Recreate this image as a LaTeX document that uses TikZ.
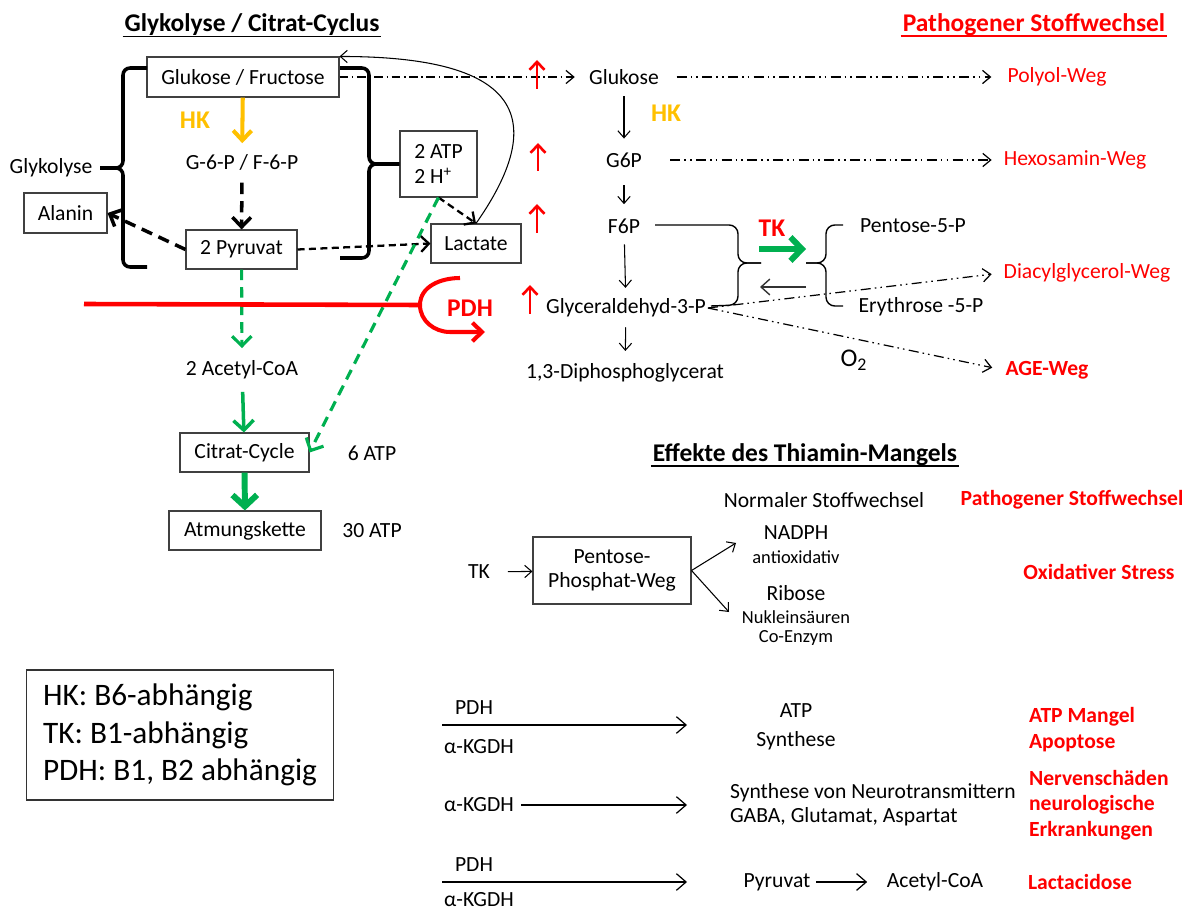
\documentclass[tikz,border=0pt]{standalone}
\usepackage{fontspec}
\setmainfont{Carlito}
\usepackage{tikz}
\usetikzlibrary{arrows.meta,calc}
\definecolor{hkorange}{HTML}{FFC000}
\definecolor{okgreen}{HTML}{00B050}
\definecolor{badred}{HTML}{FF0000}
\newcommand{\fmain}{\fontsize{12.3}{14.5}\selectfont}
\newcommand{\fsmall}{\fontsize{10.5}{12}\selectfont}
\newcommand{\ftitle}{\fontsize{14.5}{17}\selectfont}
\newcommand{\flegend}{\fontsize{17.8}{21.3}\selectfont}

\begin{document}
\begin{tikzpicture}[x=0.02cm,y=-0.02cm,font=\fmain,
  >={Straight Barb[length=4pt,width=7pt]},
  box/.style={draw=black!75,line width=0.6pt,inner sep=1pt},
  mol/.style={inner sep=1pt},
  sml/.style={inner sep=1pt,font=\fsmall},
  ttl/.style={inner sep=1pt,font=\ftitle\bfseries},
  enz/.style={inner sep=1pt,font=\ftitle\bfseries},
  bad/.style={inner sep=1pt,text=badred},
  badb/.style={inner sep=1pt,text=badred,font=\fmain\bfseries},
  flow/.style={->,line width=0.6pt},
  lflow/.style={-{Straight Barb[length=5.5pt,width=9.5pt]},line width=0.7pt},
  rise/.style={-{Straight Barb[length=4.5pt,width=8.5pt]},badred,line width=1.5pt},
  brk/.style={line width=2pt,rounded corners=4pt},
  brc/.style={line width=0.8pt,rounded corners=5pt},
  dd/.style={-{Straight Barb[length=4.5pt,width=7.5pt]},line width=0.7pt,dash pattern=on 5.7pt off 2.3pt on 0.9pt off 2.3pt on 0.9pt off 2.5pt},
  dsh/.style={-{Straight Barb[length=4.5pt,width=7.5pt]},line width=0.7pt,dash pattern=on 5pt off 2pt on 0.9pt off 2pt},
  bdash/.style={-{Straight Barb[length=5.5pt,width=10.5pt]},line width=2pt,dash pattern=on 6.5pt off 4pt},
  mdash/.style={-{Straight Barb[length=4.5pt,width=9pt]},line width=1.3pt,dash pattern=on 4pt off 2.5pt},
  gdash/.style={-{Straight Barb[length=5.5pt,width=11pt]},okgreen,line width=1.8pt,dash pattern=on 6pt off 4pt},
  uline/.style={line width=1.1pt}]
  \useasboundingbox (0,0) rectangle (1191,912);
  % glycolysis / citrate cycle
  \node[ttl] (tgly) at (252,25) {Glykolyse / Citrat-Cyclus};
  \draw[uline] ([yshift=-2.6pt]tgly.base west) -- ([yshift=-2.6pt]tgly.base east);
  \node[box,minimum width=3.84cm,minimum height=0.8cm] (glu) at (243,77) {Glukose / Fructose};
  \node[enz,text=hkorange] (hk1) at (195,120) {HK};
  \node[mol] (g6p1) at (242,162) {G-6-P / F-6-P};
  \node[box,minimum width=2.22cm,minimum height=0.78cm] (pyr) at (241.5,249.5) {2 Pyruvat};
  \node[box,minimum width=1.66cm,minimum height=0.8cm] (ala) at (65.5,213) {Alanin};
  \node[mol] (glyk) at (51,168) {Glykolyse};
  \node[box,minimum width=1.54cm,minimum height=1.32cm,align=left] (atp) at (438.5,164) {2 ATP\\2 H\textsuperscript{+}};
  \node[box,minimum width=1.8cm,minimum height=0.78cm] (lac) at (476,243.5) {Lactate};
  \node[mol] (acoa1) at (242,370) {2 Acetyl-CoA};
  \node[box,minimum width=2.58cm,minimum height=0.78cm] (cit) at (244.5,452.5) {Citrat-Cycle};
  \node[box,minimum width=3.04cm,minimum height=0.78cm] (atm) at (245,530.5) {Atmungskette};
  \node[mol] (atp6) at (372,453) {6 ATP};
  \node[mol] (atp30) at (372,531) {30 ATP};
  \node[enz,text=badred] (pdh1) at (470,308) {PDH};
  % brackets
  \draw[brk] (147,68) -- (123,68) -- (123,168) -- (100,168);
  \draw[brk] (100,168) -- (123,168) -- (123,267) -- (147,267);
  \draw[brk] (340,68) -- (369,68) -- (369,164) -- (atp.west);
  \draw[brk] (atp.west) -- (369,164) -- (369,258) -- (340,258);
  % arrows
  \draw[-{Straight Barb[length=5.5pt,width=10.5pt]},hkorange,line width=2.3pt,shorten >=5pt] (glu) -- (g6p1);
  \draw[bdash,shorten <=6pt] (g6p1) -- (pyr);
  \draw[bdash] (pyr.west) -- (ala.east);
  \draw[mdash] (pyr.east) -- (lac.west);
  \draw[mdash] (atp.south) -- (lac.north);
  \draw[flow] (lac.north) to[out=55,in=0,looseness=1.8] (glu.north east);
  \draw[gdash,shorten >=6pt] (pyr) -- (acoa1);
  \draw[-{Straight Barb[length=5.5pt,width=11.5pt]},okgreen,line width=2pt,shorten <=6pt] (acoa1) -- (cit);
  \draw[-{Straight Barb[length=6.5pt,width=14pt]},okgreen,line width=3.4pt] (cit) -- (atm);
  \draw[gdash] (atp.south) -- (cit.east);
  % PDH block
  \coordinate (rl) at (84,304);
  \coordinate (ra) at (420,305);
  \draw[badred,line width=2.6pt] (rl) -- (ra);
  \draw[-{Straight Barb[length=5.5pt,width=10.5pt]},badred,line width=2.3pt] (460,278) to[out=180,in=90] (ra) to[out=-90,in=180] (450,332) -- (485,332);
  % pathogenic metabolism
  \node[ttl,text=badred] (tpat) at (1034,25) {Pathogener Stoffwechsel};
  \draw[uline,badred] ([yshift=-2.6pt]tpat.base west) -- ([yshift=-2.6pt]tpat.base east);
  \node[mol] (gk) at (624,77) {Glukose};
  \node[mol] (g6p) at (624,160) {G6P};
  \node[mol] (f6p) at (624,226) {F6P};
  \node[mol] (gap) at (626,308) {Glyceraldehyd-3-P};
  \node[mol] (dpg) at (625,373) {1,3-Diphosphoglycerat};
  \node[enz,text=hkorange] (hk2) at (666,113) {HK};
  \node[bad] (poly) at (1057,77) {Polyol-Weg};
  \node[bad] (hexo) at (1075,160) {Hexosamin-Weg};
  \node[bad] (dag) at (1087,273) {Diacylglycerol-Weg};
  \node[badb] (age) at (1047,370) {AGE-Weg};
  \node[mol] (pen) at (913,226) {Pentose-5-P};
  \node[mol] (ery) at (921,307) {Erythrose -5-P};
  \node[enz,text=badred] (tk1) at (772,228) {TK};
  \node[mol,font=\ftitle] (o2) at (854,360) {O\textsubscript{2}};
  \draw[dsh,shorten >=7pt] (glu.east) -- (gk.west);
  \draw[flow,shorten <=5.5pt,shorten >=6.8pt] (gk) -- (g6p);
  \draw[flow,shorten <=9pt,shorten >=7pt] (g6p) -- (f6p);
  \draw[flow,shorten <=5pt,shorten >=5pt] (f6p) -- (gap);
  \draw[flow,shorten <=4.5pt,shorten >=6pt] (gap) -- (dpg);
  \draw[dd,shorten <=9pt,shorten >=8pt] (gk.east) -- (poly.west);
  \draw[dd,shorten <=15pt,shorten >=5.7pt] (g6p.east) -- (hexo.west);
  \draw[dd,shorten >=5.7pt] (gap.east) -- (dag.west);
  \draw[dd,shorten >=6.5pt] (gap.east) -- (age.west);
  \draw[rise] (537,89) -- (537,60);
  \draw[rise] (538,171) -- (538,143);
  \draw[rise] (537,233) -- (537,204);
  \draw[rise] (530,314) -- (530,285);
  % transketolase
  \draw[brc] (655,225) -- (738,225) -- (738,263) -- (761,263);
  \draw[brc] (761,263) -- (738,263) -- (738,305) -- (711,306);
  \draw[brc] (843,225) -- (826,225) -- (826,263) -- (806,263);
  \draw[brc] (806,263) -- (826,263) -- (826,306) -- (843,306);
  \coordinate (tka) at (759,249);
  \coordinate (tkb) at (806,249);
  \draw[-{Straight Barb[length=6.5pt,width=13.5pt]},okgreen,line width=3.4pt] (tka) -- (tkb);
  \coordinate (bka) at (806,287);
  \coordinate (bkb) at (760,287);
  \draw[-{Straight Barb[length=5pt,width=9pt]},line width=0.8pt,black!80] (bka) -- (bkb);
  % thiamine deficiency
  \node[ttl] (teff) at (805,455) {Effekte des Thiamin-Mangels};
  \draw[uline] ([yshift=-2.6pt]teff.base west) -- ([yshift=-2.6pt]teff.base east);
  \node[mol] (norm) at (824,500) {Normaler Stoffwechsel};
  \node[badb] (pat2) at (1072,500) {Pathogener Stoffwechsel};
  \node[mol] (tk2) at (479,572) {TK};
  \node[box,minimum width=3.16cm,minimum height=1.34cm,align=center,font=\fontsize{12.3}{13.2}\selectfont] (ppw) at (612,570.5) {Pentose-\\Phosphat-Weg};
  \node[mol] (nadph) at (796,533) {NADPH};
  \node[sml] (anti) at (796,557) {antioxidativ};
  \node[mol] (rib) at (796,593) {Ribose};
  \node[sml] (nuk) at (796,617) {Nukleinsäuren};
  \node[sml] (coe) at (796,638) {Co-Enzym};
  \node[badb] (oxs) at (1099,572) {Oxidativer Stress};
  \draw[flow,shorten <=9pt] (tk2) -- (ppw);
  \coordinate (nad1) at (736,543);
  \coordinate (rib1) at (729,612);
  \draw[flow] (ppw.east) -- (nad1);
  \draw[flow] (ppw.east) -- (rib1);
  % rows
  \coordinate (r1a) at (442,725);
  \coordinate (r1b) at (687,725);
  \draw[lflow] (r1a) -- (r1b);
  \node[mol] (pdh2) at (474,708) {PDH};
  \node[mol] (akg1) at (479,747) {α-KGDH};
  \node[mol,align=center,font=\fontsize{12.3}{16.5}\selectfont] (atps) at (796,727) {ATP\\Synthese};
  \node[badb,anchor=west,align=left] (apo) at (1027,729.5) {ATP Mangel\\Apoptose};
  \node[mol] (akg2) at (479,805) {α-KGDH};
  \coordinate (r2b) at (687,805);
  \draw[lflow,shorten <=3pt] (akg2) -- (r2b);
  \node[mol,anchor=west,align=left,font=\fontsize{12.3}{13.7}\selectfont] (neur) at (728,805) {Synthese von Neurotransmittern\\GABA, Glutamat, Aspartat};
  \node[badb,anchor=west,align=left] (nerv) at (1027,805) {Nervenschäden\\neurologische\\Erkrankungen};
  \coordinate (r3a) at (442,882);
  \coordinate (r3b) at (687,882);
  \draw[lflow] (r3a) -- (r3b);
  \node[mol] (pdh3) at (474,865) {PDH};
  \node[mol] (akg3) at (479,900) {α-KGDH};
  \node[mol] (pyr2) at (777,882) {Pyruvat};
  \node[mol] (acoa2) at (935,882) {Acetyl-CoA};
  \draw[lflow,shorten <=2pt,shorten >=10pt] (pyr2) -- (acoa2);
  \node[badb] (lacd) at (1080,882) {Lactacidose};
  % legend
  \node[box,draw=black!80,minimum width=6.16cm,minimum height=2.6cm,align=left,font=\flegend] (leg) at (180,735) {HK: B6-abhängig\\TK: B1-abhängig\\PDH: B1, B2 abhängig};
\end{tikzpicture}
\end{document}
